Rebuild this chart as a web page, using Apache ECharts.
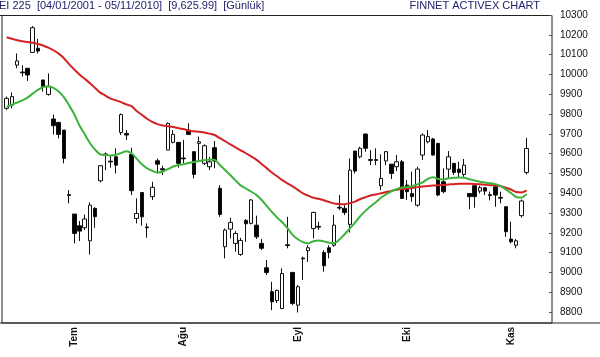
<!DOCTYPE html>
<html>
<head>
<meta charset="utf-8">
<script src="https://cdn.jsdelivr.net/npm/echarts@6/dist/echarts.min.js"></script>
<style>
    html, body { margin: 0; padding: 0; background: #fff; }
    #chart { width: 600px; height: 357px; }
</style>
</head>
<body>
<div id="chart"></div>
<script>
// trading days (index) and month starts on the x axis
var dayCount = 105;   // 101 candles + a little empty room on the right
var monthIndex = [13, 34, 56, 77, 97];
var monthLabel = ['Tem', 'Ağu', 'Eyl', 'Eki', 'Kas'];

// y axis labels
var priceTicks = [8800, 8900, 9000, 9100, 9200, 9300, 9400, 9500, 9600, 9700, 9800, 9900, 10000, 10100, 10200, 10300];

// daily candles: [open, close, low, high]
var candles = [
    [9829, 9879, 9820, 9888], [9845, 9888, 9829, 9909], [10047, 10068, 10031, 10106], [10012, 10008, 9989, 10047],
    [10031, 9997, 9967, 10031], [10111, 10236, 10111, 10244], [10132, 10118, 10106, 10179], [9972, 9938, 9913, 9972],
    [9899, 9938, 9893, 10005], [9775, 9741, 9697, 9798], [9758, 9697, 9677, 9758], [9719, 9576, 9551, 9719],
    [9393, 9389, 9349, 9416], [9295, 9197, 9147, 9295], [9236, 9209, 9159, 9260], [9226, 9270, 9214, 9293],
    [9160, 9340, 9091, 9354], [9324, 9282, 9226, 9329], [9463, 9539, 9455, 9542], [9598, 9596, 9517, 9606],
    [9562, 9558, 9529, 9593], [9584, 9542, 9500, 9627], [9707, 9797, 9694, 9803], [9702, 9694, 9669, 9719],
    [9596, 9413, 9391, 9630], [9273, 9298, 9248, 9374], [9404, 9281, 9236, 9404], [9230, 9226, 9175, 9248],
    [9383, 9430, 9366, 9458], [9564, 9547, 9500, 9575], [9524, 9518, 9492, 9539], [9618, 9753, 9618, 9758],
    [9657, 9697, 9652, 9719], [9657, 9551, 9529, 9657], [9578, 9574, 9551, 9669], [9719, 9697, 9694, 9753],
    [9610, 9495, 9475, 9610], [9652, 9660, 9559, 9686], [9551, 9640, 9542, 9647], [9534, 9559, 9517, 9584],
    [9630, 9563, 9526, 9664], [9425, 9293, 9281, 9441], [9130, 9214, 9071, 9222], [9219, 9253, 9172, 9276],
    [9147, 9197, 9105, 9209], [9091, 9162, 9084, 9175], [9263, 9246, 9155, 9270], [9248, 9366, 9243, 9371],
    [9239, 9180, 9169, 9287], [9147, 9122, 9113, 9169], [9024, 9000, 8987, 9063], [8903, 8852, 8810, 8953],
    [8858, 8910, 8846, 8914], [8818, 8995, 8815, 9021], [9140, 9136, 9122, 9281], [9000, 8844, 8835, 9004],
    [8835, 8928, 8798, 8937], [9073, 9069, 8962, 9080], [9110, 9125, 9054, 9138], [9222, 9303, 9172, 9307],
    [9233, 9229, 9215, 9256], [9101, 9034, 9004, 9113], [9125, 9101, 9071, 9138], [9138, 9239, 9130, 9290],
    [9329, 9325, 9315, 9391], [9324, 9303, 9290, 9340], [9243, 9517, 9202, 9576], [9613, 9512, 9500, 9613],
    [9584, 9627, 9576, 9635], [9699, 9627, 9610, 9702], [9570, 9566, 9542, 9618], [9570, 9566, 9542, 9627],
    [9438, 9475, 9416, 9596], [9563, 9610, 9542, 9613], [9547, 9500, 9472, 9547], [9534, 9559, 9512, 9593],
    [9559, 9374, 9371, 9568], [9441, 9408, 9366, 9467], [9399, 9383, 9357, 9509], [9340, 9522, 9332, 9534],
    [9593, 9694, 9568, 9702], [9660, 9686, 9652, 9719], [9674, 9593, 9590, 9680], [9652, 9391, 9385, 9652],
    [9458, 9408, 9400, 9526], [9522, 9584, 9475, 9613], [9551, 9505, 9492, 9551], [9522, 9505, 9478, 9559],
    [9495, 9542, 9483, 9573], [9399, 9383, 9320, 9399], [9438, 9383, 9327, 9450], [9411, 9428, 9399, 9438],
    [9428, 9411, 9391, 9428], [9393, 9389, 9364, 9408], [9433, 9391, 9332, 9445], [9379, 9375, 9349, 9408],
    [9332, 9206, 9180, 9332], [9169, 9155, 9147, 9256], [9138, 9160, 9122, 9169], [9287, 9361, 9277, 9369],
    [9505, 9626, 9495, 9680]
];

// slow average (red)
var maSlow = [
    10188, 10180, 10173, 10167, 10164, 10160, 10154, 10146, 10135, 10122,
    10105, 10082, 10052, 10025, 10000, 9978, 9956, 9932, 9908, 9893,
    9878, 9869, 9860, 9849, 9840, 9815, 9796, 9776, 9760, 9749,
    9742, 9738, 9734, 9729, 9724, 9716, 9713, 9711, 9707, 9701,
    9694, 9678, 9663, 9647, 9632, 9617, 9602, 9586, 9570, 9548,
    9527, 9505, 9486, 9466, 9450, 9435, 9417, 9399, 9388, 9377,
    9372, 9365, 9356, 9348, 9346, 9345, 9350, 9358, 9371, 9380,
    9389, 9394, 9400, 9406, 9412, 9418, 9422, 9424, 9427, 9431,
    9434, 9437, 9439, 9440, 9442, 9444, 9446, 9448, 9448, 9448,
    9447, 9445, 9443, 9441, 9440, 9437, 9428, 9419, 9406, 9404,
    9415
];

// fast average (green)
var maFast = [
    9836, 9847, 9858, 9869, 9883, 9903, 9922, 9936, 9940, 9932,
    9914, 9885, 9844, 9799, 9742, 9698, 9654, 9620, 9596, 9593,
    9591, 9594, 9603, 9612, 9602, 9575, 9546, 9526, 9513, 9505,
    9509, 9522, 9535, 9543, 9546, 9553, 9558, 9563, 9567, 9571,
    9569, 9543, 9517, 9492, 9465, 9440, 9424, 9409, 9392, 9367,
    9336, 9306, 9278, 9254, 9224, 9190, 9168, 9153, 9147, 9158,
    9161, 9157, 9150, 9148, 9166, 9193, 9222, 9252, 9285, 9311,
    9334, 9355, 9377, 9395, 9410, 9421, 9429, 9431, 9435, 9445,
    9455, 9473, 9481, 9472, 9470, 9476, 9478, 9480, 9478, 9471,
    9464, 9458, 9454, 9450, 9446, 9436, 9420, 9401, 9381, 9378,
    9397
];

function init_echarts() {
    var myChart = echarts.init(document.getElementById('chart'), null, { renderer: 'canvas' });

    var categories = [];
    for (var i = 0; i < dayCount; i++) categories.push(i);

    var isMonth = function (index) { return monthIndex.indexOf(index) >= 0; };
    var font = 'Liberation Sans, Arial, sans-serif';

    var option = {
        animation: false,
        backgroundColor: '#fff',
        title: [{
            text: 'EI 225  [04/01/2001 - 05/11/2010]  [9,625.99]  [Günlük]',
            left: -1, top: 0, padding: 0,
            textStyle: { fontSize: 11, fontWeight: 'normal', color: '#22226e', fontFamily: font }
        }, {
            text: 'FİNNET ACTIVEX CHART',
            right: 60, top: 0, padding: 0,
            textStyle: { fontSize: 11, fontWeight: 'normal', color: '#22226e', fontFamily: font }
        }],
        grid: { left: 4.1, right: 50, top: 15, bottom: 34 },
        // frame round the plot
        graphic: [
            { type: 'rect', shape: { x: 2, y: 15.5, width: 550, height: 307.5 }, style: { fill: null, stroke: '#222', lineWidth: 1 }, silent: true },
            { type: 'line', shape: { x1: 0, y1: 323, x2: 600, y2: 323 }, style: { stroke: '#222', lineWidth: 1 }, silent: true },
            { type: 'line', shape: { x1: 0, y1: 15.5, x2: 2, y2: 15.5 }, style: { stroke: '#222', lineWidth: 1 }, silent: true }
        ],
        xAxis: {
            type: 'category',
            data: categories,
            boundaryGap: true,
            axisLine: { show: false },
            axisTick: { interval: function (index) { return isMonth(index); }, alignWithLabel: true, length: 4, lineStyle: { color: '#222' } },
            axisLabel: {
                interval: function (index) { return isMonth(index); },
                formatter: function (v, index) { return monthLabel[monthIndex.indexOf(index)] || ''; },
                rotate: 90, margin: 4, fontSize: 10, fontWeight: 'bold', color: '#111', fontFamily: font
            },
            splitLine: { show: false }
        },
        yAxis: [{
            type: 'value',
            position: 'right',
            offset: 2,
            min: 8745,
            max: 10300,
            scale: true,
            axisLine: { show: false },
            axisTick: { show: true, inside: true, length: 3, customValues: priceTicks, lineStyle: { color: '#555' } },
            axisLabel: {
                customValues: priceTicks,
                formatter: function (v) { return String(v); },
                margin: 8, fontSize: 10, color: '#111', fontFamily: font
            },
            splitLine: { show: false }
        }],
        series: [{
            name: 'Fiyat',
            type: 'candlestick',
            data: candles,
            barWidth: 4,
            itemStyle: {
                color: '#fff',
                color0: '#000',
                borderColor: '#111',
                borderColor0: '#111',
                borderWidth: 1
            }
        }, {
            name: 'Ort1',
            type: 'line',
            data: maSlow,
            smooth: 0.3,
            showSymbol: false,
            lineStyle: { color: '#d42222', width: 2 }
        }, {
            name: 'Ort2',
            type: 'line',
            data: maFast,
            smooth: 0.3,
            showSymbol: false,
            lineStyle: { color: '#3cb43c', width: 2 }
        }]
    };
    myChart.setOption(option);
}

init_echarts();
</script>
</body>
</html>
